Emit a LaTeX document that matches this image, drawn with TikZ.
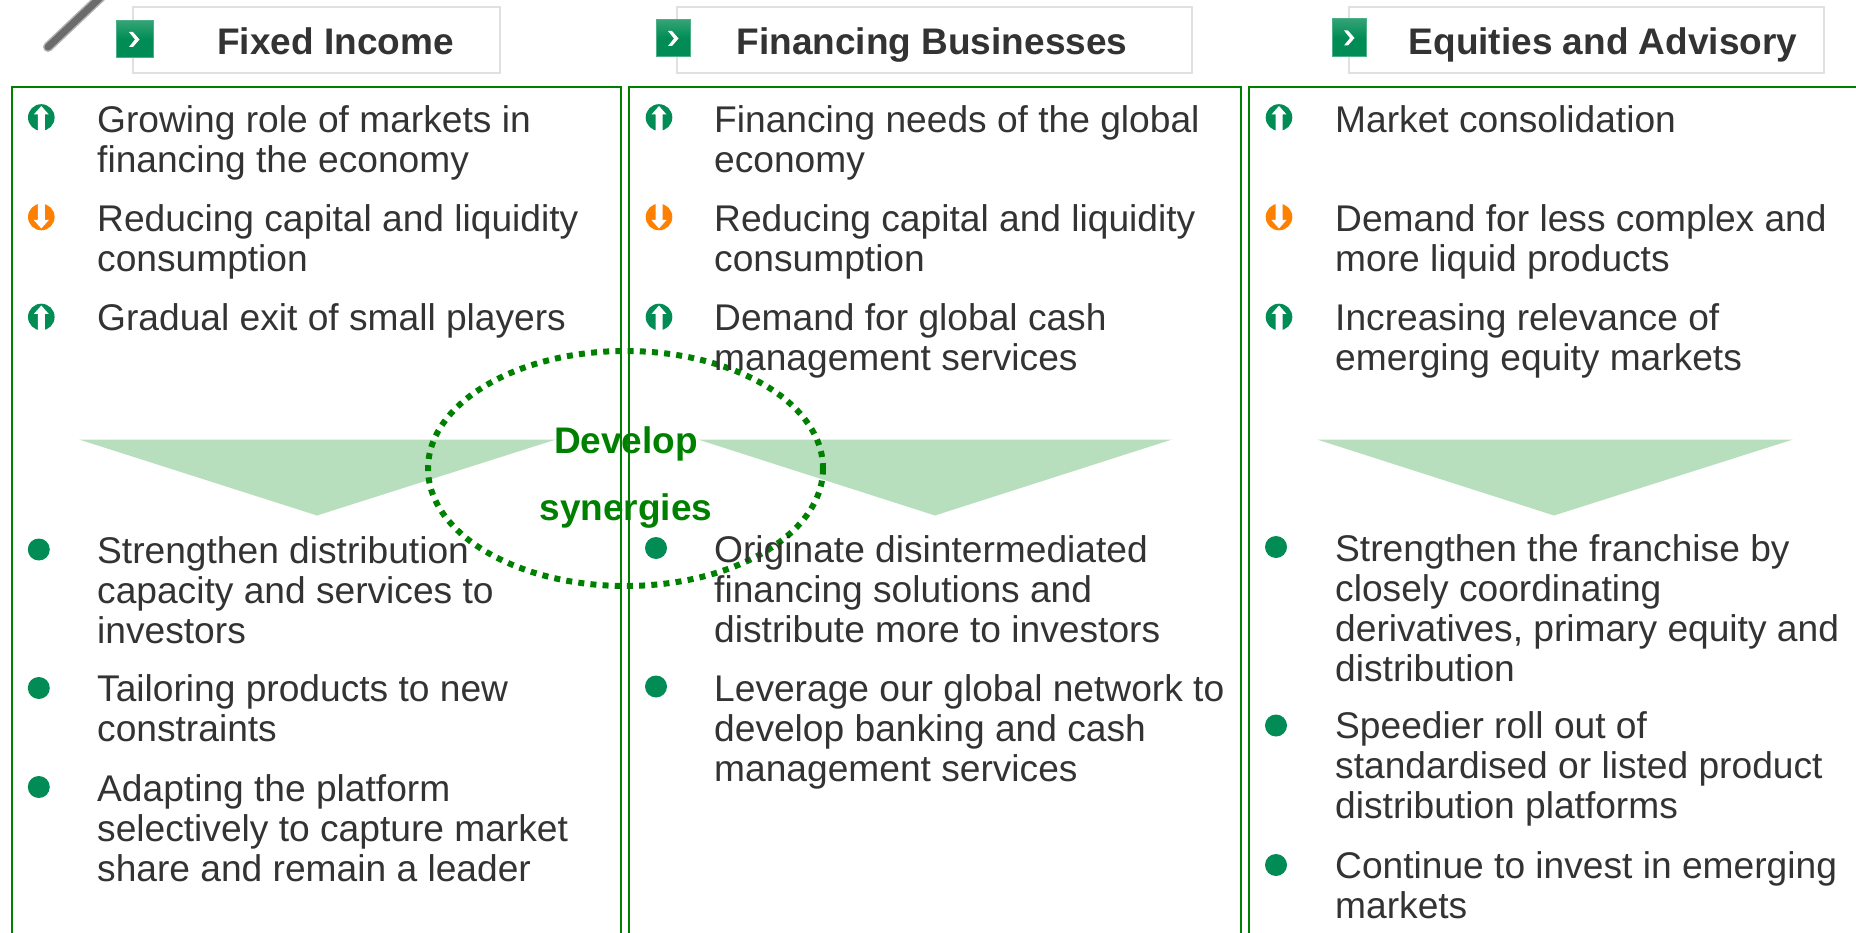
\documentclass[tikz,border=0pt]{standalone}
\usepackage{fontspec}
\setmainfont{Liberation Sans}
\definecolor{txt}{HTML}{333333}
\definecolor{panelgreen}{HTML}{008000}
\definecolor{markgreen}{HTML}{008C54}
\definecolor{markorange}{HTML}{FF8000}
\definecolor{trifill}{HTML}{B8DFBD}
\definecolor{hdrline}{HTML}{E0E0E0}
\tikzset{
  x=1pt,y=-1pt,
  body/.style={anchor=north west,inner sep=0pt,text=txt,align=left,font=\fontsize{37.15}{40}\selectfont},
  head/.style={anchor=base,inner sep=0pt,text=txt,font=\fontsize{37}{40}\selectfont\bfseries},
  syn/.style={anchor=base,inner sep=0pt,text=panelgreen,font=\fontsize{37}{40}\selectfont\bfseries},
  dotmark/.style={circle,fill=markgreen,minimum size=22pt,inner sep=0pt},
  panelbox/.style={draw=panelgreen,line width=2.8pt},
  hdrbox/.style={draw=hdrline,line width=2pt,fill=white},
  sqbox/.style={draw=markgreen!70!white,line width=1pt,top color=markgreen!80!white,bottom color=markgreen,middle color=markgreen},
  upmark/.pic={
    \fill[markgreen] (0,0) circle[radius=13.3];
    \fill[white] (0,-11.5) -- (7.5,-3) -- (3.5,-3) -- (3.5,14.5) -- (-3.5,14.5) -- (-3.5,-3) -- (-7.5,-3) -- cycle;
  },
  downmark/.pic={
    \fill[markorange] (0,0) circle[radius=13.3];
    \fill[white] (0,11.5) -- (7.5,3) -- (3.5,3) -- (3.5,-14.5) -- (-3.5,-14.5) -- (-3.5,3) -- (-7.5,3) -- cycle;
  },
  chev/.pic={
    \fill[white] (-5,-7.5) -- (-1,-7.5) -- (5.5,0) -- (-1,7.5) -- (-5,7.5) -- (1,0) -- cycle;
  }
}
\newcommand{\fs}{\rule{0pt}{27pt}}
\begin{document}
\begin{tikzpicture}
\useasboundingbox (0,0) rectangle (1856,933);
\clip (0,0) rectangle (1856,933);
% triangles
\fill[trifill] (79,439.5) -- (556,439.5) -- (317,515.5) -- cycle;
\fill[trifill] (698,439.5) -- (1172,439.5) -- (935,515.5) -- cycle;
\fill[trifill] (1317,439.5) -- (1793,439.5) -- (1554,515.5) -- cycle;
% pencil
\draw[line width=10pt,color=black!30,line cap=round] (48,47) -- (104,-6);
\draw[line width=7pt,color=black!58,line cap=round] (48,47) -- (104,-6);
% panels
\draw[panelbox] (12,87) rectangle (621,960);
\draw[panelbox] (629,87) rectangle (1241,960);
\draw[panelbox] (1249,87) rectangle (1900,960);
% ellipse
\draw[panelgreen,line width=6pt,dash pattern=on 6pt off 6.2pt] (625.5,468.5) ellipse [x radius=197.5,y radius=117.5];
% headers
\draw[hdrbox] (133,7) rectangle (500,73);
\draw[hdrbox] (677,7) rectangle (1192,73);
\draw[hdrbox] (1349,7) rectangle (1824,73);
\draw[sqbox] (116,21) rectangle (153,58);
\draw[sqbox] (656,20) rectangle (690,57);
\draw[sqbox] (1332,19) rectangle (1366,57);
\pic at (134,39.5) {chev};
\pic at (673,38.5) {chev};
\pic at (1349,38) {chev};
\node[head] (h1) at (335.5,54.5) {Fixed Income};
\node[head] (h2) at (932,54.5) {Financing Businesses};
\node[head] (h3) at (1603,54.5) {Equities and Advisory};
% icons
\pic at (41.3,117.5) {upmark};
\pic at (41.3,217) {downmark};
\pic at (41.3,317) {upmark};
\pic at (659,117.5) {upmark};
\pic at (659,217) {downmark};
\pic at (659,317) {upmark};
\pic at (1279,117.5) {upmark};
\pic at (1279,217) {downmark};
\pic at (1279,317) {upmark};
% dots
\node[dotmark] (d1) at (38.8,549.5) {};
\node[dotmark] (d2) at (38.8,688) {};
\node[dotmark] (d3) at (38.8,787) {};
\node[dotmark] (d4) at (656,548) {};
\node[dotmark] (d5) at (656,686.5) {};
\node[dotmark] (d6) at (1276,547) {};
\node[dotmark] (d7) at (1276,725.5) {};
\node[dotmark] (d8) at (1276,865) {};
% column 1 text
\node[body] (a1) at (97,105) {\fs Growing role of markets in\\financing the economy};
\node[body] (a2) at (97,204.5) {\fs Reducing capital and liquidity\\consumption};
\node[body] (a3) at (97,303) {\fs Gradual exit of small players};
\node[body] (a4) at (97,536) {\fs Strengthen distribution\\capacity and services to\\investors};
\node[body] (a5) at (97,674.5) {\fs Tailoring products to new\\constraints};
\node[body] (a6) at (97,774) {\fs Adapting the platform\\selectively to capture market\\share and remain a leader};
% column 2 text
\node[body] (b1) at (714,105) {\fs Financing needs of the global\\economy};
\node[body] (b2) at (714,204.5) {\fs Reducing capital and liquidity\\consumption};
\node[body] (b3) at (714,303) {\fs Demand for global cash\\management services};
\node[body] (b4) at (714,535) {\fs Originate disintermediated\\financing solutions and\\distribute more to investors};
\node[body] (b5) at (714,674.5) {\fs Leverage our global network to\\develop banking and cash\\management services};
% column 3 text
\node[body] (c1) at (1335,105) {\fs Market consolidation};
\node[body] (c2) at (1335,204.5) {\fs Demand for less complex and\\more liquid products};
\node[body] (c3) at (1335,303) {\fs Increasing relevance of\\emerging equity markets};
\node[body] (c4) at (1335,534) {\fs Strengthen the franchise by\\closely coordinating\\derivatives, primary equity and\\distribution};
\node[body] (c5) at (1335,711.5) {\fs Speedier roll out of\\standardised or listed product\\distribution platforms};
\node[body] (c6) at (1335,851) {\fs Continue to invest in emerging\\markets};
% synergy label
\node[syn] (s1) at (626,453) {Develop};
\node[syn] (s2) at (626,520.5) {synergies};
\end{tikzpicture}
\end{document}
